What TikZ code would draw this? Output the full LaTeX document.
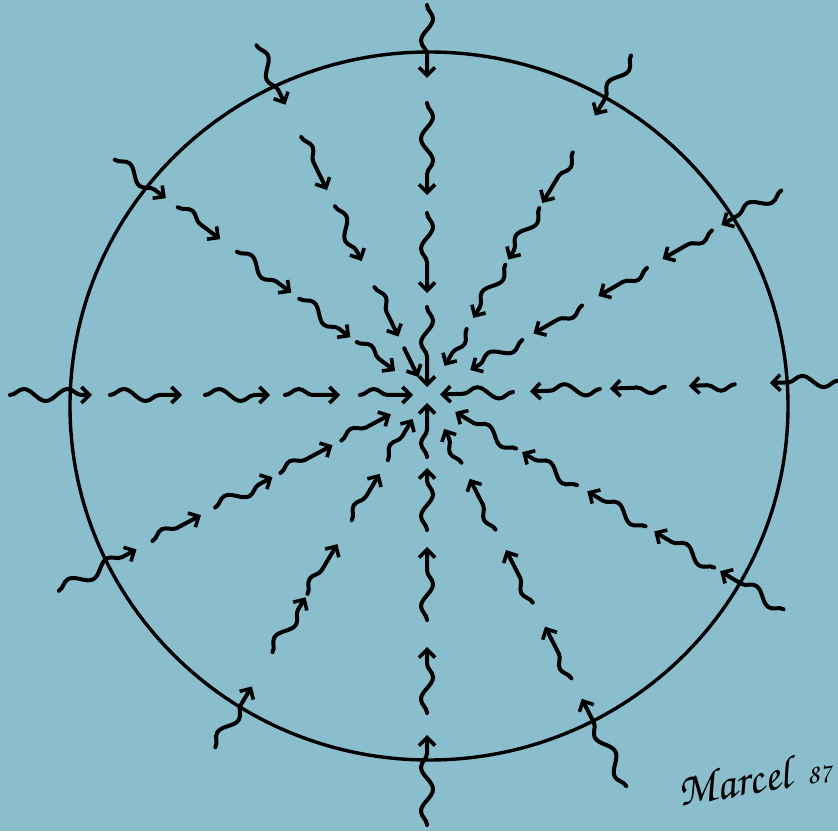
\documentclass[tikz,border=0pt]{standalone}
\usepackage[T1,TU]{fontenc}
\usetikzlibrary{decorations.pathmorphing,arrows.meta}
\definecolor{skyblue}{RGB}{138,190,205}
\newcommand{\signfont}{\fontencoding{T1}\fontfamily{pzc}\fontseries{mb}\fontshape{it}\selectfont}
\tikzset{
  wiggle/.style={line width=4pt,line cap=round,
    -{Straight Barb[length=8pt,width=16pt,line width=3.6pt]},
    decorate,decoration={snake,segment length=44pt,amplitude=6pt,post length=10pt}},
  rim/.style={line width=3.4pt}
}
\begin{document}
\begin{tikzpicture}[x=1pt,y=1pt]
  \fill[skyblue] (0,0) rectangle (838,831);
  \useasboundingbox (0,0) rectangle (838,831);
  \coordinate (hub) at (427,436);
  \coordinate (mid) at (429,425);
  \draw[rim] (mid) ellipse [x radius=359,y radius=354];
  % twelve rays, outer/inner radius of every squiggle
  \begin{scope}[shift={(hub)}]
    \foreach \ang/\segs in {
        90/{390/317,292/200,182/102,88/8},
        116/{389/323,287/228,210/149,120/65,52/20},
        143/{391/327,312/259,238/170,160/96,88/40},
        180/{417/335,317/245,222/157,142/87,67/14},
        208/{417/329,311/256,240/175,166/107,97/41},
        239/{411/340,300/236,232/174,146/92,76/28},
        270/{430/340,318/252,225/152,135/73,62/8},
        297/{439/341,318/260,233/174,151/94,76/38},
        329/{416/342,335/265,255/187,175/111,104/33},
        2/{411/343,308/262,238/183,173/103,86/13},
        30/{409/340,329/272,254/198,179/123,110/50},
        59/{396/326,283/224,218/158,152/90,77/34}}{
      \foreach \ro/\ri in \segs
        \draw[wiggle] (\ang:\ro) -- (\ang:\ri);
    }
  \end{scope}
  \node[rotate=10,anchor=base west,inner sep=0pt,font={\signfont\fontsize{46}{46}\selectfont}] (sig) at (680,24) {Marcel};
  \node[rotate=8,anchor=base west,inner sep=0pt,font={\signfont\fontsize{28}{28}\selectfont}] (year) at (808,46) {87};
\end{tikzpicture}
\end{document}
